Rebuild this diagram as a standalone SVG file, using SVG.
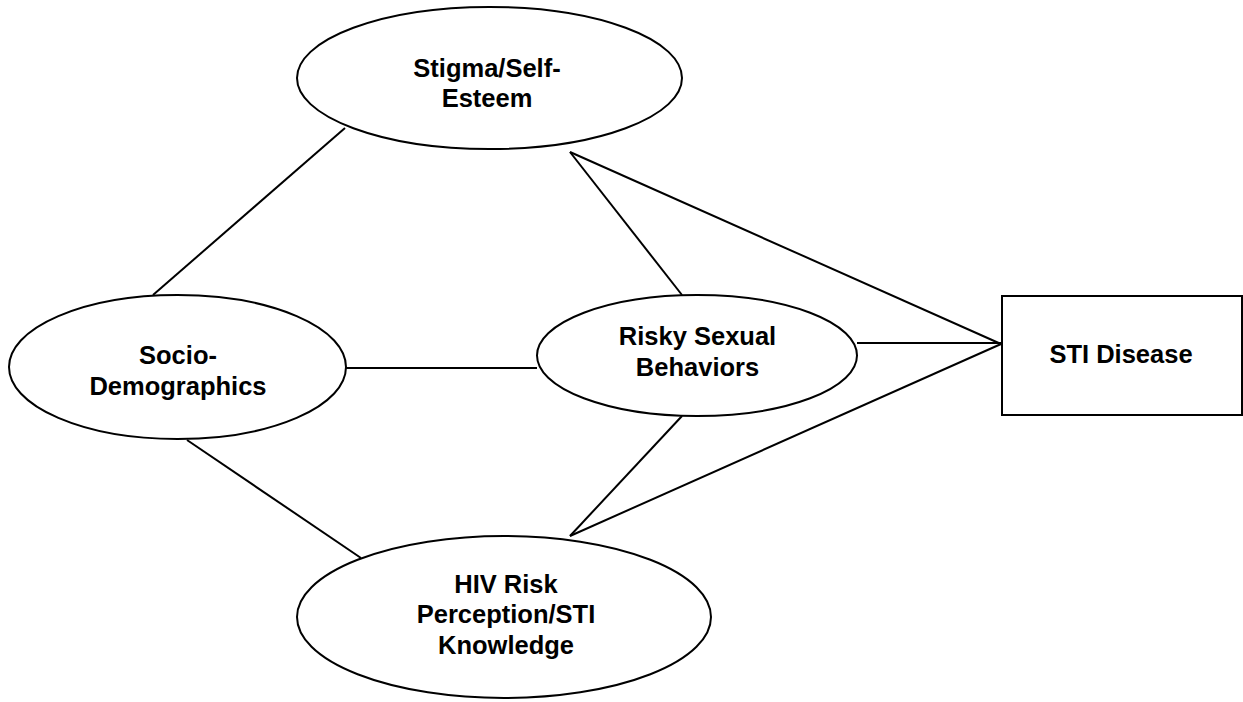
<svg xmlns="http://www.w3.org/2000/svg" width="1243" height="702" viewBox="0 0 1243 702">
<style>
.shape{fill:#fff;stroke:#000;stroke-width:2}
.lbl{font-family:"Liberation Sans",Arial,sans-serif;font-weight:bold;font-size:25.5px;fill:#000;text-anchor:middle}
.conn line{stroke:#000;stroke-width:2;fill:none}
</style>
<rect width="1243" height="702" fill="#fff"/>
<g id="connectors" class="conn">
<line x1="153" y1="295" x2="345" y2="128"/>
<line x1="346" y1="368" x2="537" y2="368"/>
<line x1="187" y1="440" x2="361" y2="558"/>
<line x1="570" y1="152" x2="682" y2="295"/>
<line x1="570" y1="152" x2="1001" y2="344"/>
<line x1="857" y1="343" x2="1001" y2="343"/>
<line x1="682" y1="416" x2="570" y2="536"/>
<line x1="570" y1="536" x2="1001" y2="344"/>
</g>
<g id="stigma">
<ellipse class="shape" cx="489.5" cy="78" rx="192.5" ry="71"/>
<text class="lbl" x="487" y="77">Stigma/Self-</text>
<text class="lbl" x="487" y="107">Esteem</text>
</g>
<g id="socio">
<ellipse class="shape" cx="177.5" cy="367" rx="168.5" ry="72"/>
<text class="lbl" x="178" y="364">Socio-</text>
<text class="lbl" x="178" y="395">Demographics</text>
</g>
<g id="risky">
<ellipse class="shape" cx="697" cy="355.5" rx="160" ry="60.5"/>
<text class="lbl" x="697.5" y="345">Risky Sexual</text>
<text class="lbl" x="697.5" y="376">Behaviors</text>
</g>
<g id="hiv">
<ellipse class="shape" cx="504" cy="617" rx="207" ry="81"/>
<text class="lbl" x="506" y="593">HIV Risk</text>
<text class="lbl" x="506" y="623">Perception/STI</text>
<text class="lbl" x="506" y="654">Knowledge</text>
</g>
<g id="sti">
<rect class="shape" x="1002" y="296" width="240" height="119"/>
<text class="lbl" x="1121" y="363">STI Disease</text>
</g>
</svg>
